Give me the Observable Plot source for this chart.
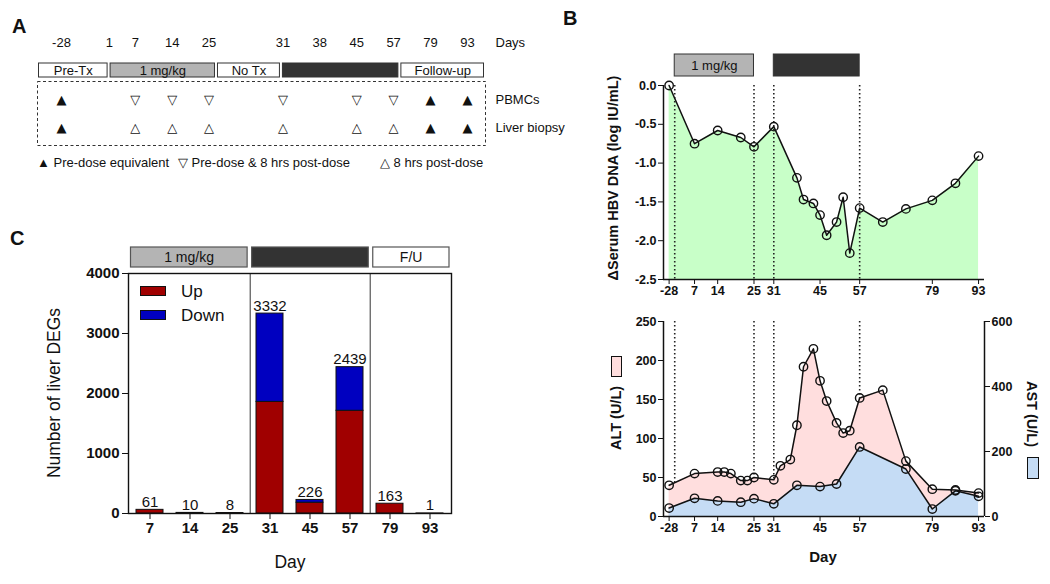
<!DOCTYPE html>
<html><head><meta charset="utf-8">
<script src="https://cdn.jsdelivr.net/npm/d3@7"></script>
<script src="https://cdn.jsdelivr.net/npm/@observablehq/plot@0.6"></script>
<style>
body{margin:0;background:#fff;font-family:"Liberation Sans",Arial,Helvetica,sans-serif;color:#111;}
#fig{position:relative;width:1050px;height:584px;overflow:hidden;background:#fff;}
</style></head><body><div id="fig"></div>
<script>
// ---------------- DATA ----------------
// Panel A: study schedule
const scheduleLabels = ["-28","1","7","14","25","31","38","45","57","79","93"];
const scheduleSlots  = [0, 1.3, 2, 3, 4, 6, 7, 8, 9, 10, 11];
const periodLabels = ["Pre-Tx","1 mg/kg","No Tx","","Follow-up"];
const periodFrom   = [-0.65, 1.29, 4.2, 5.96, 9.17];
const periodTo     = [1.29, 4.2, 5.96, 9.17, 11.49];
const periodKind   = ["none","low","none","high","none"];
const sampleDays = ["-28","7","14","25","31","45","57","79","93"];
const pbmcType   = ["pre","both","both","both","both","both","both","pre","pre"];
const liverType  = ["pre","post","post","post","post","post","post","pre","pre"];
const sampleRows = ["PBMCs","Liver biopsy"];

// Panel B: serum HBV DNA change
const hbvDay = [-28,7,14,21,25,31,38,40,43,45,47,50,52,54,57,64,71,79,86,93];
const hbvLog = [0,-0.75,-0.58,-0.67,-0.79,-0.53,-1.19,-1.47,-1.52,-1.67,-1.93,-1.76,-1.44,-2.16,-1.58,-1.76,-1.59,-1.48,-1.26,-0.91];
// Panel B: ALT / AST
const altDay = [-28,7,14,16,18,21,23,25,31,33,36,38,40,43,45,47,50,52,54,57,64,71,79,86,93];
const altVal = [40,55,57,57,55,46,46,50,47,65,73,117,192,215,174,148,120,107,110,152,162,71,35,34,30];
const astDay = [-28,7,14,21,25,31,38,45,50,57,71,79,86,93];
const astVal = [26,56,48,44,55,39,96,92,100,214,146,23,79,62];
const bTickDays = [-28,7,14,25,31,45,57,79,93];
const doseDays = [1,25,31,57];
const bPeriodFrom = [1,31], bPeriodTo = [25,57], bPeriodLabel = ["1 mg/kg",""], bPeriodKind = ["low","high"];
const altTicks = [0,50,100,150,200,250];
const astTicks = [0,200,400,600];

// Panel C: liver DEGs
const degDays = ["7","14","25","31","45","57","79","93"];
const degUp   = [61,10,8,1860,180,1712,163,1];
const degDown = [0,0,0,1472,46,727,0,0];
const degTicks = [0,1000,2000,3000,4000];
const cGroupLabel = ["1 mg/kg","","F/U"];
const cGroupFirst = ["7","31","79"];
const cGroupLast  = ["25","57","93"];
const cKind = ["low","high","none"];

// ---------------- STYLE ----------------
const FONT = '"Liberation Sans", Arial, Helvetica, sans-serif';
const kindFill = {none:"#ffffff", low:"#b4b4b4", high:"#333333"};
const GREEN = "#c8ffc8", PINK = "#ffdede", LBLUE = "#c5dcf5", RED = "#a00000", DBLUE = "#0000c0";
const fig = document.getElementById("fig");
const baseStyle = {fontFamily: FONT, background: "transparent", overflow: "visible", color: "#111"};
function place(el, left, top){ el.style.position="absolute"; el.style.left=left+"px"; el.style.top=top+"px"; fig.appendChild(el); return el; }
function label(text, cx, cy, {size=13, weight="normal", rotate=0, anchor="center"}={}){
  const d=document.createElement("div"); d.textContent=text;
  const tx = anchor==="start" ? "0" : "-50%";
  Object.assign(d.style,{position:"absolute",left:cx+"px",top:cy+"px",transform:`translate(${tx},-50%) rotate(${rotate}deg)`,
    fontSize:size+"px",fontWeight:weight,whiteSpace:"nowrap",lineHeight:"1",fontFamily:FONT});
  fig.appendChild(d); return d;
}
function swatch(x,y,w,h,fill){
  const d=document.createElement("div");
  Object.assign(d.style,{position:"absolute",left:x+"px",top:y+"px",width:w+"px",height:h+"px",background:fill,border:"1.3px solid #111",boxSizing:"border-box"});
  fig.appendChild(d);
}

// ---------------- PANEL A ----------------
label("A", 12, 26, {size:20, weight:"bold", anchor:"start"});
const xDomA = [d3.min(periodFrom), d3.max(periodTo)];
const aCommon = {width:560, marginLeft:37, marginRight:75, style:baseStyle};
const periods = periodLabels.map((l,i)=>({label:l, from:periodFrom[i], to:periodTo[i], kind:periodKind[i]}));
const slotOf = d => scheduleSlots[scheduleLabels.indexOf(d)];
const glyph = {pre:"▲", both:"▽", post:"△"};
const samples = [
  ...sampleDays.map((d,i)=>({day:d, row:"PBMCs", type:pbmcType[i]})),
  ...sampleDays.map((d,i)=>({day:d, row:"Liver biopsy", type:liverType[i]}))
];

place(Plot.plot({...aCommon, height:20, marginTop:0, marginBottom:0,
  x:{domain:xDomA, axis:null},
  marks:[
    Plot.text(scheduleLabels, {x:(d,i)=>scheduleSlots[i], text:d=>d, fontSize:13}),
    Plot.text(["Days"], {frameAnchor:"right", dx:10, textAnchor:"start", text:d=>d, fontSize:13})
  ]}), 0, 32);

place(Plot.plot({...aCommon, height:16, marginTop:1, marginBottom:1,
  x:{domain:xDomA, axis:null}, color:{type:"identity"},
  marks:[
    Plot.barX(periods, {x1:"from", x2:"to", fill:d=>kindFill[d.kind], stroke:"#333", strokeWidth:1, insetLeft:1.5, insetRight:1.5}),
    Plot.text(periods, {x:d=>(d.from+d.to)/2, text:"label", fontSize:13, fill:"#111"})
  ]}), 0, 62);

place(Plot.plot({...aCommon, height:66, marginTop:1, marginBottom:1,
  x:{domain:xDomA, axis:null},
  y:{type:"point", domain:sampleRows, padding:0.64, axis:null},
  marks:[
    Plot.frame({stroke:"#333", strokeDasharray:"3,2.5", strokeWidth:1}),
    Plot.text(samples, {x:d=>slotOf(d.day), y:"row", text:d=>glyph[d.type], fontSize:13, fontFamily:"DejaVu Sans"}),
    Plot.text(sampleRows, {y:d=>d, text:d=>d, frameAnchor:"right", dx:10, textAnchor:"start", fontSize:13})
  ]}), 0, 80);

label("▲ Pre-dose equivalent", 37, 162, {size:13, anchor:"start"});
label("▽ Pre-dose & 8 hrs post-dose", 178, 162, {size:13, anchor:"start"});
label("△ 8 hrs post-dose", 380, 162, {size:13, anchor:"start"});

// ---------------- PANEL B ----------------
label("B", 563, 18, {size:20, weight:"bold", anchor:"start"});
const PRE_POS = -0.7;               // plotted position of the pre-dose (day -28) sample
const pos = d => d === -28 ? PRE_POS : d;
const xDomB = [-2.4, 94.8];
const bCommon = {width:480, marginLeft:103, marginRight:56, style:baseStyle};
const bTickFormat = v => String(bTickDays.find(d => pos(d) === v));
const bTicks = bTickDays.map(pos);
const axTxt = {fontSize:12.5, fontWeight:"bold"};

const bPeriods = bPeriodFrom.map((f,i)=>({from:f, to:bPeriodTo[i], label:bPeriodLabel[i], kind:bPeriodKind[i]}));
place(Plot.plot({...bCommon, height:24, marginTop:1, marginBottom:1,
  x:{domain:xDomB, axis:null}, color:{type:"identity"},
  marks:[
    Plot.barX(bPeriods, {x1:"from", x2:"to", fill:d=>kindFill[d.kind], stroke:"#333", strokeWidth:1}),
    Plot.text(bPeriods, {x:d=>(d.from+d.to)/2, text:"label", fontSize:13, fill:"#111"})
  ]}), 560, 53);

const hbv = hbvDay.map((d,i)=>({x:pos(d), v:hbvLog[i]}));
const yDomHBV = [-2.5, 0];
place(Plot.plot({...bCommon, height:264, marginTop:40, marginBottom:30,
  x:{domain:xDomB}, y:{domain:yDomHBV},
  marks:[
    Plot.areaY(hbv, {x:"x", y1:yDomHBV[0], y2:"v", fill:GREEN}),
    Plot.ruleX(doseDays, {stroke:"#222", strokeWidth:1.6, strokeDasharray:"1.4,2.6"}),
    Plot.line(hbv, {x:"x", y:"v", stroke:"#111", strokeWidth:1.5}),
    Plot.dot(hbv, {x:"x", y:"v", r:4.2, stroke:"#111", strokeWidth:1.4, fill:"none"}),
    Plot.ruleX([xDomB[0]], {stroke:"#111", strokeWidth:1.5}),
    Plot.ruleY([yDomHBV[0]], {stroke:"#111", strokeWidth:1.5}),
    Plot.axisY({ticks:d3.range(-2.5, 0.01, 0.5), tickFormat:d=>d.toFixed(1), tickSize:5, tickPadding:2, label:null, ...axTxt}),
    Plot.axisX({ticks:bTicks, tickFormat:bTickFormat, tickSize:5, tickPadding:2, label:null, ...axTxt})
  ]}), 560, 45);
label("ΔSerum HBV DNA (log IU/mL)", 613, 178, {size:14.5, weight:"bold", rotate:-90});

const K = altTicks[altTicks.length-1] / astTicks[astTicks.length-1];
const alt = altDay.map((d,i)=>({x:pos(d), v:altVal[i]}));
const ast = astDay.map((d,i)=>({x:pos(d), v:astVal[i]*K}));
place(Plot.plot({...bCommon, height:284, marginTop:21, marginBottom:68,
  x:{domain:xDomB}, y:{domain:[0, altTicks[altTicks.length-1]]},
  marks:[
    Plot.ruleX(doseDays, {stroke:"#222", strokeWidth:1.6, strokeDasharray:"1.4,2.6"}),
    Plot.areaY(alt, {x:"x", y:"v", fill:PINK}),
    Plot.areaY(ast, {x:"x", y:"v", fill:LBLUE}),
    Plot.line(alt, {x:"x", y:"v", stroke:"#111", strokeWidth:1.5}),
    Plot.line(ast, {x:"x", y:"v", stroke:"#111", strokeWidth:1.5}),
    Plot.dot(alt, {x:"x", y:"v", r:4.2, stroke:"#111", strokeWidth:1.4, fill:"none"}),
    Plot.dot(ast, {x:"x", y:"v", r:4.2, stroke:"#111", strokeWidth:1.4, fill:"none"}),
    Plot.ruleX([xDomB[0], xDomB[1]], {stroke:"#111", strokeWidth:1.5}),
    Plot.ruleY([0], {stroke:"#111", strokeWidth:1.5}),
    Plot.axisY({ticks:altTicks, tickSize:5, tickPadding:2, label:null, ...axTxt}),
    Plot.axisY({anchor:"right", ticks:astTicks.map(v=>v*K), tickFormat:v=>String(Math.round(v/K)), tickSize:5, tickPadding:2, label:null, ...axTxt}),
    Plot.axisX({ticks:bTicks, tickFormat:bTickFormat, tickSize:5, tickPadding:2, label:null, ...axTxt})
  ]}), 560, 300);
label("ALT (U/L)", 616, 418, {size:14.5, weight:"bold", rotate:-90});
swatch(611, 356, 11, 21, PINK);
label("AST (U/L)", 1032, 414, {size:14.5, weight:"bold", rotate:90});
swatch(1027, 457, 12, 22, LBLUE);
label("Day", 823, 556, {size:15, weight:"bold"});

// ---------------- PANEL C ----------------
label("C", 10, 238, {size:20, weight:"bold", anchor:"start"});
const cW = 470, cML = 128, cMR = 19, PI = 0.33, PO = 0.165;
const degLong = degDays.flatMap((d,i)=>[{day:d, dir:"Up", n:degUp[i]}, {day:d, dir:"Down", n:degDown[i]}]).filter(r=>r.n>0);
const degTot = degDays.map((d,i)=>({day:d, total:degUp[i]+degDown[i]}));
const stepC = (cW - cML - cMR) / (degDays.length - PI + 2*PO);
const seps = cGroupLast.slice(0,-1);
const cGroups = cGroupLabel.map((l,i)=>({label:l, from:degDays.indexOf(cGroupFirst[i])-0.5, to:degDays.indexOf(cGroupLast[i])+0.5, kind:cKind[i]}));

place(Plot.plot({width:cW, height:22, marginLeft:cML, marginRight:cMR, marginTop:1, marginBottom:1, style:baseStyle,
  x:{domain:[-0.5, degDays.length-0.5], axis:null}, color:{type:"identity"},
  marks:[
    Plot.barX(cGroups, {x1:"from", x2:"to", fill:d=>kindFill[d.kind], stroke:"#555", strokeWidth:1.2, insetLeft:2.5, insetRight:2}),
    Plot.text(cGroups, {x:d=>(d.from+d.to)/2, text:"label", fontSize:14, fill:"#111"})
  ]}), 0, 246);

place(Plot.plot({width:cW, height:310, marginLeft:cML, marginRight:cMR, marginTop:33, marginBottom:37, style:baseStyle,
  x:{type:"band", domain:degDays, paddingInner:PI, paddingOuter:PO},
  y:{domain:[0, degTicks[degTicks.length-1]]},
  color:{domain:["Up","Down"], range:[RED, DBLUE]},
  marks:[
    Plot.barY(degLong, {x:"day", y:"n", fill:"dir", stroke:"#111", strokeWidth:1}),
    Plot.ruleX(seps, {x:d=>d, dx:stepC/2, stroke:"#333", strokeWidth:1}),
    Plot.text(degTot, {x:"day", y:"total", text:d=>String(d.total), lineAnchor:"bottom", dy:-3, fontSize:15, fill:"#111"}),
    Plot.frame({stroke:"#111", strokeWidth:1.4}),
    Plot.axisY({ticks:degTicks, tickFormat:d=>String(d), tickSize:6, tickPadding:3, label:null, fontSize:15, fontWeight:"bold"}),
    Plot.axisX({tickSize:6, tickPadding:3, label:null, fontSize:15, fontWeight:"bold"})
  ]}), 0, 240);
swatch(140, 286, 26, 10, RED);
label("Up", 181, 291, {size:17, anchor:"start"});
swatch(140, 310, 26, 10, DBLUE);
label("Down", 181, 315, {size:17, anchor:"start"});
label("Number of liver DEGs", 55, 393, {size:17.5, rotate:-90});
label("Day", 290, 563, {size:17.5});
</script></body></html>
